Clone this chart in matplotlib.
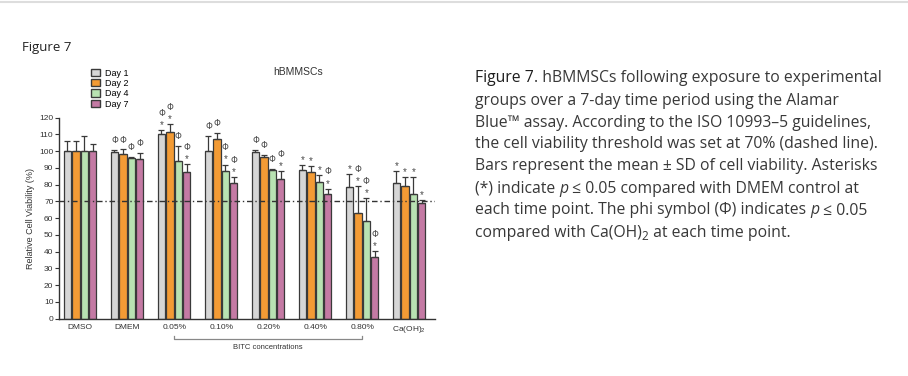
import matplotlib
matplotlib.use("Agg")
import matplotlib.pyplot as plt
from matplotlib.patches import Patch
import numpy as np

plt.rcParams['font.family'] = ['Liberation Sans', 'DejaVu Sans']
plt.rcParams['mathtext.fontset'] = 'custom'
plt.rcParams['mathtext.rm'] = 'Liberation Sans'

groups = ['DMSO', 'DMEM', '0.05%', '0.10%', '0.20%', '0.40%', '0.80%', 'Ca(OH)$_2$']
days = ['Day 1', 'Day 2', 'Day 4', 'Day 7']

day1 = [100, 99.3, 110, 100, 99.7, 88.8, 78.8, 81.2]
day2 = [100, 98.3, 111.5, 107, 96.7, 87.8, 62.9, 79.4]
day4 = [100, 96.0, 94.2, 88, 88.6, 81.6, 58.3, 74.6]
day7 = [100, 95.3, 87.6, 81, 83.6, 74.3, 36.8, 69.3]

err1 = [6, 1.4, 2.6, 9, 1.3, 3, 7.6, 6.8]
err2 = [6, 2.8, 4.5, 4, 1.3, 3.2, 16.3, 5]
err4 = [9.3, 0.5, 9.1, 4, 0.9, 4.2, 13.9, 10.2]
err7 = [4, 3.8, 4.6, 3.5, 4.4, 3.3, 3.6, 1.6]

# significance marks: 'p' = phi (vs Ca(OH)2), 's' = asterisk (vs DMEM)
sig1 = ['', 'p', 'ps', 'p', 'p', 's', 's', 's']
sig2 = ['', 'p', 'ps', 'p', 'p', 's', 'ps', 's']
sig4 = ['', 'p', 'p', 'ps', 'p', 's', 'ps', 's']
sig7 = ['', 'p', 'ps', 'ps', 'ps', 'ps', 'ps', 's']

threshold = 70

colors = ['#d6d6d6', '#f39b35', '#b8e2b2', '#c47aa4']
edge = '#3a3a3a'

fig = plt.figure(figsize=(9.08, 3.76), dpi=100)
W, H = 908, 376
ax = fig.add_axes([59 / W, (H - 318.7) / H, (435 - 59) / W, (318.7 - 117.7) / H])

means = [day1, day2, day4, day7]
errs = [err1, err2, err4, err7]
sigs = [sig1, sig2, sig4, sig7]
x = np.arange(len(groups))
bw = 0.155
offs = np.array([-1.5, -0.5, 0.5, 1.5]) * 0.18

for i in range(4):
    xi = x + offs[i]
    ax.bar(xi, means[i], width=bw, color=colors[i], edgecolor=edge, linewidth=0.9, zorder=2)
    ax.errorbar(xi, means[i], yerr=[np.zeros(len(groups)), errs[i]], fmt='none',
                ecolor=edge, elinewidth=0.9, capsize=2.0, capthick=0.9, zorder=3)
    for j in range(len(groups)):
        top = means[i][j] + errs[i][j]
        s = sigs[i][j]
        y = top + 3.0
        if 's' in s:
            ax.text(xi[j], y, '*', ha='center', va='center', fontsize=7, color='#4a4a4a',
                    clip_on=False, zorder=4)
            y += 7
        else:
            y += 2.5
        if 'p' in s:
            ax.text(xi[j], y, 'Φ', ha='center', va='center', fontsize=6.3, color='#4a4a4a',
                    family='DejaVu Sans', clip_on=False, zorder=4)

ax.axhline(threshold, color='#333333', lw=1.0, ls=(0, (4, 2, 1, 2)), zorder=5)

ax.set_xlim(-0.45, 7.55)
ax.set_ylim(0, 120)
ax.set_yticks(np.arange(0, 121, 10))
ax.set_xticks(x)
ax.set_xticklabels(groups, fontsize=6, color='#333333')
ax.tick_params(axis='y', labelsize=6, colors='#333333', length=3, width=0.8, pad=1)
ax.tick_params(axis='x', length=0, pad=4)
for sp in ['top', 'right']:
    ax.spines[sp].set_visible(False)
for sp in ['left', 'bottom']:
    ax.spines[sp].set_linewidth(1.0)
    ax.spines[sp].set_color('#333333')
ax.set_ylabel('Relative Cell Viability (%)', fontsize=6.5, color='#333333', labelpad=3)

# bracket for BITC concentrations
trans = ax.get_xaxis_transform()
yb0, yb1 = -0.085, -0.102
ax.plot([2, 2, 6, 6], [yb0, yb1, yb1, yb0], transform=trans, color='#888888', lw=0.9, clip_on=False)
ax.text(4, -0.125, 'BITC concentrations', transform=trans, ha='center', va='top',
        fontsize=5.5, color='#333333')

ax.set_title('hBMMSCs', fontsize=7.5, color='#333333', x=(298 - 59) / (435 - 59), y=1.17)

handles = [Patch(facecolor=c, edgecolor=edge, linewidth=1.0, label=d) for c, d in zip(colors, days)]
ax.legend(handles=handles, loc='upper left', bbox_to_anchor=(91 / W, 1 - 68.5 / H),
          bbox_transform=fig.transFigure, frameon=False, fontsize=6.5,
          handlelength=1.0, handleheight=0.9, labelspacing=0.15, handletextpad=0.5,
          borderpad=0, borderaxespad=0)

# header
fig.add_artist(plt.Line2D([0, 1], [1 - 1.5 / H, 1 - 1.5 / H], color='#dddddd', lw=1.5))
fig.text(22 / W, 1 - 48 / H, 'Figure 7', fontsize=9.5, color='#222222', va='center',
         family='Open Sans')

# caption
cap_font = 'Open Sans'
cap_size = 11.3
cap_color = '#383838'
lines = [
    [('Figure 7', 'n', '#1e1e1e'), ('. hBMMSCs following exposure to experimental', 'n', cap_color)],
    [('groups over a 7-day time period using the Alamar', 'n', cap_color)],
    [('Blue™ assay. According to the ISO 10993–5 guidelines,', 'n', cap_color)],
    [('the cell viability threshold was set at 70% (dashed line).', 'n', cap_color)],
    [('Bars represent the mean ± SD of cell viability. Asterisks', 'n', cap_color)],
    [('(*) indicate ', 'n', cap_color), ('p', 'i', cap_color), (' ≤ 0.05 compared with DMEM control at', 'n', cap_color)],
    [('each time point. The phi symbol (Φ) indicates ', 'n', cap_color), ('p', 'i', cap_color), (' ≤ 0.05', 'n', cap_color)],
    [('compared with Ca(OH)', 'n', cap_color), ('2', 'sub', cap_color), (' at each time point.', 'n', cap_color)],
]
line_y = [76.7, 99.3, 121.5, 143, 165, 187, 209, 231]

fig.canvas.draw()
renderer = fig.canvas.get_renderer()
for parts, ly in zip(lines, line_y):
    xp = 475.0
    for txt, style, col in parts:
        kw = dict(fontsize=cap_size, color=col, family=cap_font, va='baseline')
        yy = ly + 5.5
        if style == 'i':
            kw['style'] = 'italic'
        if style == 'sub':
            kw['fontsize'] = cap_size * 0.75
            yy = ly + 8.5
        t = fig.text(xp / W, 1 - yy / H, txt, **kw)
        bb = t.get_window_extent(renderer)
        xp += bb.width

fig.savefig('out.png', dpi=100)
